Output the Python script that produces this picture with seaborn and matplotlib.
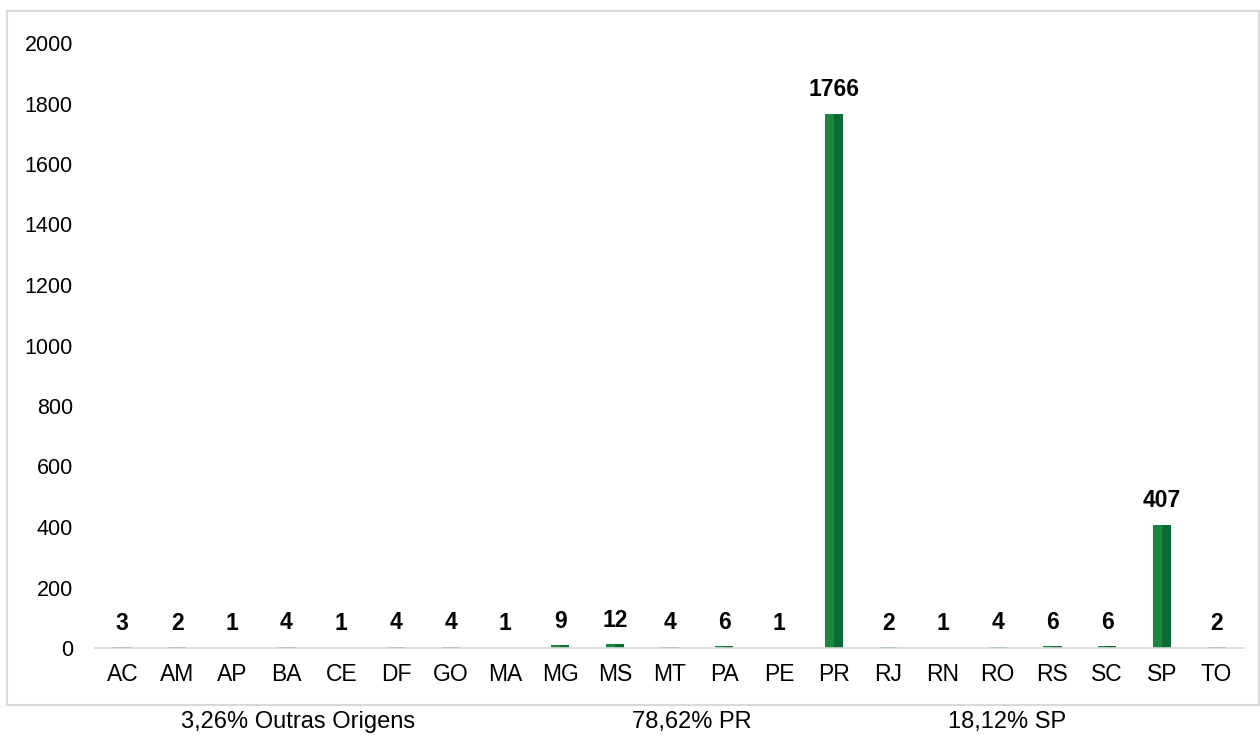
import matplotlib
matplotlib.use("Agg")
import matplotlib.pyplot as plt
import seaborn as sns
import pandas as pd
from matplotlib.patches import Rectangle

# Data
estados = ["AC", "AM", "AP", "BA", "CE", "DF", "GO", "MA", "MG", "MS", "MT",
           "PA", "PE", "PR", "RJ", "RN", "RO", "RS", "SC", "SP", "TO"]
quantidade = [3, 2, 1, 4, 1, 4, 4, 1, 9, 12, 4, 6, 1, 1766, 2, 1, 4, 6, 6, 407, 2]
resumo_textos = ["3,26% Outras Origens", "78,62% PR", "18,12% SP"]
resumo_x = [298, 692, 1007]

df = pd.DataFrame({"estado": estados, "qtd": quantidade})

sns.set_theme(style="white")
plt.rcParams['font.family'] = ['Liberation Sans', 'DejaVu Sans']

fig = plt.figure(figsize=(12.6, 7.35), dpi=100)
ax = fig.add_axes([95 / 1260, 87 / 735, (1244 - 95) / 1260, (648 - 43) / 735])

sns.barplot(data=df, x="estado", y="qtd", color="#18883f", width=0.33,
            saturation=1, ax=ax, edgecolor="none")

# darker right half to mimic the bevel look
for p in list(ax.patches):
    ax.add_patch(Rectangle((p.get_x() + p.get_width() * 0.5, 0),
                           p.get_width() * 0.5, p.get_height(),
                           facecolor="#0c6a34", edgecolor="none", zorder=p.get_zorder() + 0.1))

ax.bar_label(ax.containers[0], padding=9, fontsize=16.5, fontweight="bold", color="#000000")

ax.set_ylim(0, 2000)
ax.set_yticks(range(0, 2001, 200))
ax.set_xlim(-0.5, len(estados) - 0.5)
ax.set_xlabel("")
ax.set_ylabel("")
ax.tick_params(axis="y", length=0, pad=16, labelsize=15.5, labelcolor="#000000")
ax.tick_params(axis="x", length=0, pad=11, labelsize=16.5, labelcolor="#000000")
for s in ["top", "right", "left"]:
    ax.spines[s].set_visible(False)
ax.spines["bottom"].set_color("#d9d9d9")
ax.spines["bottom"].set_linewidth(1.2)
ax.grid(False)

# chart border
fig.patches.append(Rectangle((7 / 1260, 30 / 735), (1259 - 7) / 1260, (724 - 30) / 735,
                             transform=fig.transFigure, fill=False,
                             edgecolor="#d9d9d9", linewidth=1.5))

for txt, xp in zip(resumo_textos, resumo_x):
    fig.text(xp / 1260, 13 / 735, txt, ha="center", va="center", fontsize=17, color="#000000")

fig.savefig("out.png", dpi=100)
